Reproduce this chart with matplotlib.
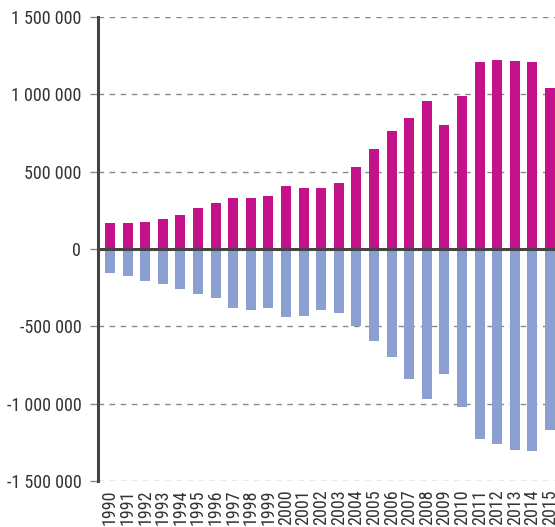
import matplotlib
matplotlib.use("Agg")
import matplotlib.pyplot as plt
from matplotlib import font_manager
from matplotlib.ticker import FuncFormatter

# Yearly totals: inflows above zero, outflows below
years = list(range(1990, 2016))
inflow = [170000, 170000, 176000, 196000, 220000, 265000, 297000, 330000,
          330000, 343000, 407000, 394000, 394000, 427000, 530000, 646000,
          763000, 847000, 957000, 802000, 989000, 1209000, 1222000, 1215000,
          1209000, 1041000]
outflow = [-153000, -172000, -205000, -224000, -257000, -289000, -315000,
           -379000, -392000, -379000, -437000, -431000, -392000, -411000,
           -496000, -593000, -696000, -838000, -968000, -806000, -1019000,
           -1226000, -1259000, -1297000, -1303000, -1168000]
y_ticks = [-1500000, -1000000, -500000, 0, 500000, 1000000, 1500000]

# prefer a narrow face if one is installed
installed = {f.name for f in font_manager.fontManager.ttflist}
narrow = [n for n in ["Roboto Condensed", "Liberation Sans Narrow",
                      "Open Sans Condensed", "Noto Sans Condensed"]
          if n in installed]
if narrow:
    plt.rcParams["font.family"] = [narrow[0], "DejaVu Sans"]
    fsize = 13
else:
    plt.rcParams["font.family"] = ["Roboto", "DejaVu Sans"]
    fsize = 11

fig = plt.figure(figsize=(5.55, 5.27), dpi=100)
ax = fig.add_axes([98 / 555, 46 / 527, 457 / 555, 464 / 527])

x = list(range(len(years)))
ax.bar(x, inflow, width=0.57, color="#C4128B", zorder=3)
ax.bar(x, outflow, width=0.57, color="#8C9FD1", zorder=3)

ax.set_xlim(-0.68, 25.28)
ax.set_ylim(-1500000, 1500000)

ax.set_yticks(y_ticks)
ax.yaxis.set_major_formatter(
    FuncFormatter(lambda v, p: f"{int(v):,}".replace(",", " ")))
ax.grid(axis="y", linestyle=(0, (4, 4)), color="#8a8a8a", linewidth=1.0, zorder=0)
ax.axhline(0, color="#444444", linewidth=2.2, zorder=4)

ax.set_xticks(x)
ax.set_xticklabels([str(y) for y in years], rotation=90)

for side in ["top", "right", "bottom"]:
    ax.spines[side].set_visible(False)
ax.spines["left"].set_color("#444444")
ax.spines["left"].set_linewidth(2.2)
ax.spines["left"].set_zorder(5)

ax.tick_params(axis="y", length=6, width=1, color="#8a8a8a", pad=6,
               labelsize=fsize, labelcolor="#333333")
ax.tick_params(axis="x", length=0, pad=6, labelsize=fsize, labelcolor="#333333")

fig.savefig("out.png", dpi=100)
